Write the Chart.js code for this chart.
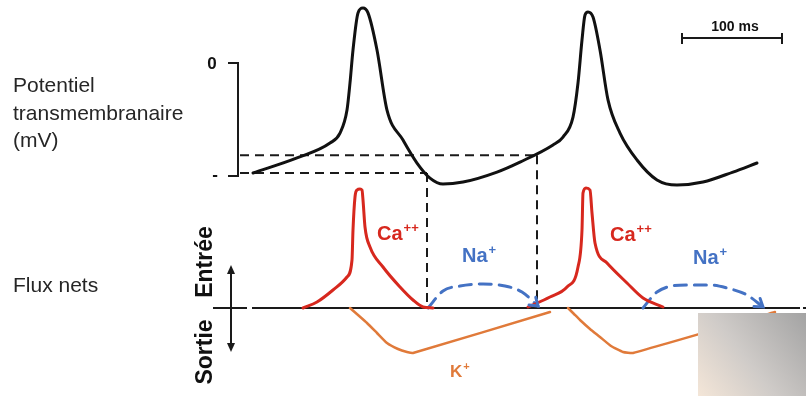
<!DOCTYPE html>
<html>
<head>
<meta charset="utf-8">
<script src="https://cdn.jsdelivr.net/npm/chart.js@4.4.0/dist/chart.umd.min.js"></script>
<style>
  html, body { margin: 0; padding: 0; background: #fff; }
  canvas { display: block; }
</style>
</head>
<body>
<canvas id="chart" width="806" height="396"></canvas>
<script>
// ---- data: time in ms, potential in mV, flux in arbitrary units ----
const apTime = [0, 44, 77, 87, 94, 97, 100, 105, 110, 115, 124, 134, 150, 164, 177, 190, 210, 244,
                267, 300, 310, 320, 325, 329, 332, 335, 340, 347, 355, 367, 384, 404, 424, 450, 480, 504];
const apMv   = [-58.4, -50.4, -42.5, -37.2, -25, -10.6, 6.9, 26.6, 29.2, 26.6, 6.9, -25, -40.9, -53.1, -61.1, -64.3, -63.2, -57.9,
                -52.6, -43.5, -39.3, -28.7, -10.6, 12.2, 25.5, 27.1, 24.4, 6.9, -19.6, -37.2, -51.5, -62.1, -64.8, -63.2, -57.9, -53.1];

const ca1Time = [50, 64, 80, 94, 99, 100, 102, 104, 107, 109, 110, 112, 117, 130, 147, 160, 170, 180];
const ca1Flux = [0, 6, 18, 31, 48, 78, 111, 118, 119, 118, 108, 81, 61, 41, 21, 8, 1, 0];
const ca2Time = [275, 297, 314, 325, 329, 330, 333, 337, 339, 342, 354, 374, 390, 410];
const ca2Flux = [1, 11, 21, 41, 78, 115, 120, 118, 95, 65, 45, 25, 10, 1];

const na1Time = [175, 190, 207, 230, 252, 269, 285];
const na1Flux = [0, 17, 22, 24, 22, 16, 2];
const na2Time = [390, 404, 434, 457, 474, 494, 510];
const na2Flux = [0, 16, 23, 23, 20, 13, 1];

const k1Time = [97, 105, 114, 124, 134, 145, 154, 160, 297];
const k1Flux = [0, -7, -15, -25, -35, -41, -44, -45, -4];
const k2Time = [315, 321, 327, 337, 347, 358, 370, 380, 522];
const k2Flux = [0, -6, -12, -21, -29, -38, -44, -45, -4];

const scaleRange = [0, -60];         // bracket on the potential axis (mV)
const thresholdMv = -49;             // dashed guide levels
const diastolicMv = -58.4;
const guideTimes = [284, 174];       // where the guides drop to the flux axis
const scaleBarMs = 100;

const toPoints = (xs, ys) => xs.map((x, i) => ({ x: x, y: ys[i] }));

function line(ctx, x1, y1, x2, y2) {
    ctx.beginPath();
    ctx.moveTo(x1, y1);
    ctx.lineTo(x2, y2);
    ctx.stroke();
}

function drawIon(ctx, name, sup, x, y, color, size, supSize) {
    ctx.fillStyle = color;
    ctx.font = `bold ${size}px "Liberation Sans", Arial, sans-serif`;
    ctx.textAlign = 'left';
    ctx.textBaseline = 'alphabetic';
    ctx.fillText(name, x, y);
    const w = ctx.measureText(name).width;
    ctx.font = `bold ${supSize}px "Liberation Sans", Arial, sans-serif`;
    ctx.fillText(sup, x + w + 1, y - size * 0.42);
}

function arrowHead(ctx, tipX, tipY, fromX, fromY, len, spread) {
    const a = Math.atan2(tipY - fromY, tipX - fromX);
    ctx.beginPath();
    ctx.moveTo(tipX - len * Math.cos(a - spread), tipY - len * Math.sin(a - spread));
    ctx.lineTo(tipX, tipY);
    ctx.lineTo(tipX - len * Math.cos(a + spread), tipY - len * Math.sin(a + spread));
    ctx.stroke();
}

const diagramPlugin = {
    id: 'diagram',
    beforeDatasetsDraw(chart) {
        const { ctx } = chart;
        const { x, yV, yF } = chart.scales;
        const base = yF.getPixelForValue(0);

        ctx.save();
        ctx.strokeStyle = '#1a1a1a';
        ctx.lineCap = 'butt';

        // potential bracket
        ctx.lineWidth = 2;
        const bx = x.getPixelForValue(-15);
        const top = yV.getPixelForValue(scaleRange[0]);
        const bot = yV.getPixelForValue(scaleRange[1]);
        ctx.beginPath();
        ctx.moveTo(bx - 10, top);
        ctx.lineTo(bx, top);
        ctx.lineTo(bx, bot);
        ctx.lineTo(bx - 10, bot);
        ctx.stroke();

        // dashed guides
        ctx.setLineDash([9, 6]);
        const gx1 = x.getPixelForValue(guideTimes[0]);
        const gx2 = x.getPixelForValue(guideTimes[1]);
        const thY = yV.getPixelForValue(thresholdMv);
        const mdY = yV.getPixelForValue(diastolicMv);
        line(ctx, bx + 2, thY, gx1, thY);
        line(ctx, gx1, thY, gx1, base - 3);
        line(ctx, bx + 2, mdY, gx2, mdY);
        line(ctx, gx2, mdY, gx2, base - 3);
        ctx.setLineDash([]);

        // flux baseline
        ctx.lineWidth = 2;
        line(ctx, 213, base, 247, base);
        line(ctx, 252, base, 800, base);
        line(ctx, 803, base, 806, base);

        // double arrow Entrée / Sortie
        line(ctx, 231, 270, 231, 347);
        ctx.fillStyle = '#1a1a1a';
        ctx.beginPath();
        ctx.moveTo(231, 265); ctx.lineTo(227, 274); ctx.lineTo(235, 274); ctx.closePath();
        ctx.fill();
        ctx.beginPath();
        ctx.moveTo(231, 352); ctx.lineTo(227, 343); ctx.lineTo(235, 343); ctx.closePath();
        ctx.fill();

        // scale bar
        const sx1 = x.getPixelForValue(429);
        const sx2 = x.getPixelForValue(429 + scaleBarMs);
        line(ctx, sx1, 38, sx2, 38);
        line(ctx, sx1, 33, sx1, 44);
        line(ctx, sx2, 33, sx2, 44);
        ctx.restore();
    },
    afterDatasetsDraw(chart) {
        const { ctx } = chart;
        ctx.save();
        // open arrowheads at the end of the Na+ arcs
        ctx.strokeStyle = '#4472c4';
        ctx.lineWidth = 3;
        ctx.lineCap = 'round';
        chart.data.datasets.forEach((ds, i) => {
            if (!ds.arrowEnd) return;
            const pts = chart.getDatasetMeta(i).data;
            const p = pts[pts.length - 1];
            const q = pts[pts.length - 2];
            arrowHead(ctx, p.x, p.y, q.x, q.y, 9, 0.6);
        });
        ctx.restore();
    },
    afterDraw(chart) {
        const { ctx } = chart;
        ctx.save();
        const font = '"Liberation Sans", Arial, sans-serif';

        ctx.fillStyle = '#262626';
        ctx.font = `21px ${font}`;
        ctx.textAlign = 'left';
        ctx.textBaseline = 'alphabetic';
        ctx.fillText('Potentiel', 13, 92);
        ctx.fillText('transmembranaire', 13, 120);
        ctx.fillText('(mV)', 13, 147);
        ctx.fillText('Flux nets', 13, 292);

        ctx.fillStyle = '#111';
        ctx.font = `bold 17px ${font}`;
        ctx.textAlign = 'center';
        ctx.textBaseline = 'middle';
        ctx.fillText('0', 212, 64);
        ctx.fillText('-', 215, 175);

        ctx.font = `bold 14px ${font}`;
        ctx.textBaseline = 'alphabetic';
        ctx.fillText('100 ms', 735, 31);

        // rotated axis words
        ctx.font = `bold 23px ${font}`;
        ctx.textBaseline = 'middle';
        ctx.save();
        ctx.translate(206, 262);
        ctx.rotate(-Math.PI / 2);
        ctx.fillText('Entrée', 0, 0);
        ctx.restore();
        ctx.save();
        ctx.translate(206, 352);
        ctx.rotate(-Math.PI / 2);
        ctx.fillText('Sortie', 0, 0);
        ctx.restore();

        drawIon(ctx, 'Ca', '++', 377, 240, '#d7281e', 20, 13);
        drawIon(ctx, 'Ca', '++', 610, 241, '#d7281e', 20, 13);
        drawIon(ctx, 'Na', '+', 462, 262, '#4472c4', 20, 13);
        drawIon(ctx, 'Na', '+', 693, 264, '#4472c4', 20, 13);
        drawIon(ctx, 'K', '+', 450, 377, '#e07a3a', 17, 11);

        // grey overlay box in the lower right corner
        const g = ctx.createLinearGradient(698, 396, 806, 313);
        g.addColorStop(0, '#f4e6d8');
        g.addColorStop(0.45, '#cfcbc8');
        g.addColorStop(1, '#a3a3a3');
        ctx.fillStyle = g;
        ctx.fillRect(698, 313, 108, 83);
        ctx.restore();
    }
};

const datasets = [
    { label: 'Potentiel', data: toPoints(apTime, apMv), yAxisID: 'yV',
      borderColor: '#111', borderWidth: 3 },
    { label: 'Ca++ 1', data: toPoints(ca1Time, ca1Flux), yAxisID: 'yF',
      borderColor: '#d7281e', borderWidth: 3 },
    { label: 'Ca++ 2', data: toPoints(ca2Time, ca2Flux), yAxisID: 'yF',
      borderColor: '#d7281e', borderWidth: 3 },
    { label: 'Na+ 1', data: toPoints(na1Time, na1Flux), yAxisID: 'yF',
      borderColor: '#4472c4', borderWidth: 3, borderDash: [12, 8], arrowEnd: true },
    { label: 'Na+ 2', data: toPoints(na2Time, na2Flux), yAxisID: 'yF',
      borderColor: '#4472c4', borderWidth: 3, borderDash: [12, 8], arrowEnd: true },
    { label: 'K+ 1', data: toPoints(k1Time, k1Flux), yAxisID: 'yF',
      borderColor: '#e07a3a', borderWidth: 2.5, cubicInterpolationMode: 'default', tension: 0.15 },
    { label: 'K+ 2', data: toPoints(k2Time, k2Flux), yAxisID: 'yF',
      borderColor: '#e07a3a', borderWidth: 2.5, cubicInterpolationMode: 'default', tension: 0.15 }
];

new Chart(document.getElementById('chart').getContext('2d'), {
    type: 'line',
    data: { datasets: datasets },
    options: {
        responsive: false,
        animation: false,
        events: [],
        layout: { padding: 0 },
        plugins: { legend: { display: false }, tooltip: { enabled: false } },
        elements: {
            point: { radius: 0 },
            line: { cubicInterpolationMode: 'monotone', borderCapStyle: 'round', borderJoinStyle: 'round', fill: false }
        },
        scales: {
            x: { type: 'linear', display: false, min: -253, max: 553 },
            yV: { type: 'linear', display: false, min: -333 * 60 / 113, max: 63 * 60 / 113 },
            yF: { type: 'linear', display: false, min: -88, max: 308 }
        }
    },
    plugins: [diagramPlugin]
});
</script>
</body>
</html>
